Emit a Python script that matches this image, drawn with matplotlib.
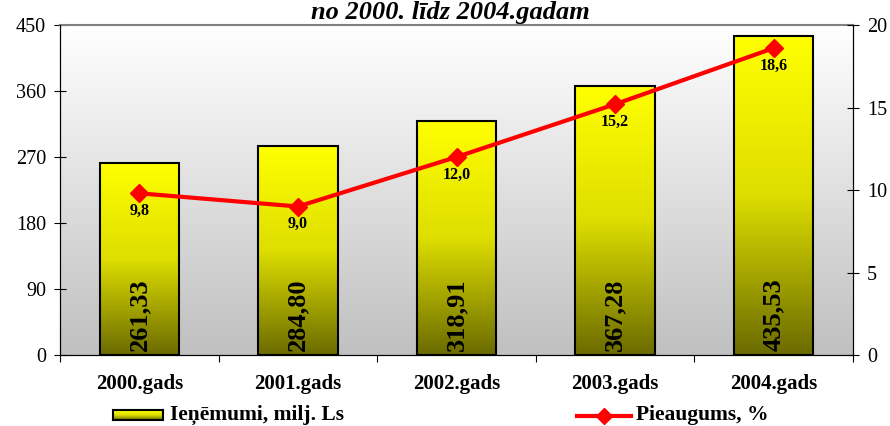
import numpy as np
import matplotlib.pyplot as plt
from matplotlib.colors import LinearSegmentedColormap

years = ["2000.gads", "2001.gads", "2002.gads", "2003.gads", "2004.gads"]
revenue = [261.33, 284.80, 318.91, 367.28, 435.53]
revenue_labels = ["261,33", "284,80", "318,91", "367,28", "435,53"]
growth = [9.8, 9.0, 12.0, 15.2, 18.6]
growth_labels = ["9,8", "9,0", "12,0", "15,2", "18,6"]

plt.rcParams['font.family'] = ['Liberation Serif', 'DejaVu Serif']

W, H = 890, 426
fig = plt.figure(figsize=(W / 100, H / 100), dpi=100)
ax = fig.add_axes([60 / W, 1 - 355 / H, 793 / W, 330 / H])

grad = np.linspace(0, 1, 256).reshape(-1, 1)
bg_cmap = LinearSegmentedColormap.from_list("bg", ["#ffffff", "#c0c0c0"])
bar_cmap = LinearSegmentedColormap.from_list("bar", ["#ffff00", "#dede00", "#6b6b00"])
ax.imshow(grad, cmap=bg_cmap, extent=[0, 1, 0, 1], transform=ax.transAxes,
          aspect='auto', zorder=0)

x = np.arange(len(years))
bars = ax.bar(x, revenue, width=0.5, color='none', edgecolor='black',
              linewidth=1.5, zorder=3)
for b in bars:
    im = ax.imshow(grad, cmap=bar_cmap, aspect='auto', zorder=2,
                   extent=[b.get_x(), b.get_x() + b.get_width(), 0, b.get_height()])
    im.set_clip_path(b)

for xi, lab in zip(x, revenue_labels):
    ax.text(xi, 5, lab, rotation=90, ha='center', va='bottom',
            fontsize=19, fontweight='bold', zorder=4)

ax.set_xlim(-0.5, 4.5)
ax.set_ylim(0, 450)
ax.set_yticks(np.arange(0, 451, 90))
ax.set_xticks(np.arange(-0.5, 5, 1))
ax.set_xticklabels([])
ax.set_xticks(x, minor=True)
ax.set_xticklabels(years, minor=True, fontweight='bold', fontsize=15)
ax.tick_params(axis='x', which='minor', length=0, pad=14)
ax.tick_params(axis='x', which='major', direction='out', length=5)
ax.tick_params(axis='y', direction='inout', length=8, labelsize=14.5, pad=6)
ax.spines['top'].set_color('#808080')
ax.spines['top'].set_linewidth(1.5)

ax2 = ax.twinx()
ax2.plot(x, growth, color='#ff0000', linewidth=3, marker='D', markersize=9,
         zorder=5)
for xi, g, lab in zip(x, growth, growth_labels):
    ax2.annotate(lab, (xi, g), xytext=(0, -7), textcoords='offset points',
                 ha='center', va='top', fontsize=11.5, fontweight='bold')
ax2.set_ylim(0, 20)
ax2.set_yticks(np.arange(0, 21, 5))
ax2.tick_params(axis='y', direction='inout', length=8, labelsize=14.5, pad=6)
ax2.spines['top'].set_visible(False)

fig.text(450 / W, 1 - 19 / H, "no 2000. līdz 2004.gadam", ha='center',
         va='baseline', fontsize=19, fontweight='bold', style='italic')

# legend
lax = fig.add_axes([113 / W, 1 - 420 / H, 50 / W, 10 / H])
lax.imshow(grad, cmap=bar_cmap, aspect='auto', extent=[0, 1, 0, 1])
lax.set_xticks([])
lax.set_yticks([])
for s in lax.spines.values():
    s.set_linewidth(1.5)
fig.text(170 / W, 1 - 415 / H, "Ieņēmumi, milj. Ls", ha='left', va='center',
         fontsize=15.5, fontweight='bold')
fig.add_artist(plt.Line2D([577 / W, 631 / W], [1 - 416 / H, 1 - 416 / H],
                          color='#ff0000', linewidth=3,
                          transform=fig.transFigure))
fig.add_artist(plt.Line2D([604 / W], [1 - 416 / H], color='#ff0000',
                          marker='D', markersize=8, linestyle='none',
                          transform=fig.transFigure))
fig.text(636 / W, 1 - 415 / H, "Pieaugums, %", ha='left', va='center',
         fontsize=15.5, fontweight='bold')

plt.savefig('out.png', dpi=100)
